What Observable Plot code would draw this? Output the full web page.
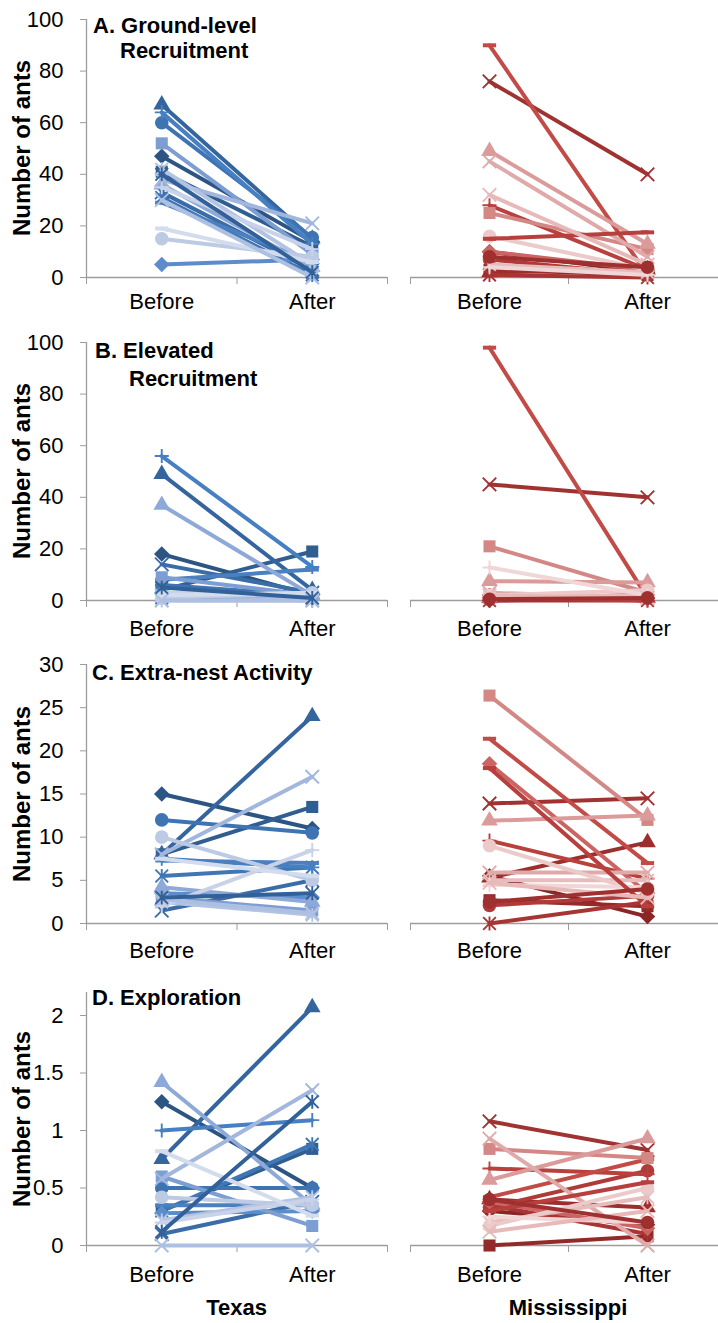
<!DOCTYPE html>
<html>
<head>
<meta charset="utf-8">
<script src="https://cdn.jsdelivr.net/npm/d3@7"></script>
<script src="https://cdn.jsdelivr.net/npm/@observablehq/plot@0.6"></script>
<style>
  body { margin: 0; background: #fff; }
  #chart { position: relative; width: 718px; height: 1323px; overflow: hidden; background: #fff;
           font-family: "Liberation Sans", Arial, sans-serif; }
  #chart svg { position: absolute; }
  .lbl { position: absolute; white-space: nowrap; line-height: 1; color: #000; font-weight: bold; }
</style>
</head>
<body>
<div id="chart"></div>
<script>
// ---- data ----
const categories = ["Before", "After"];
const stateNames = ["Texas", "Mississippi"];
const panelTitles = [["A. Ground-level", "Recruitment"], ["B. Elevated", "Recruitment"], ["C. Extra-nest Activity"], ["D. Exploration"]];
const yAxisTitle = "Number of ants";
const yDomains = [[0, 100], [0, 100], [0, 30], [0, 2.2]];
const yTicks = [[0, 20, 40, 60, 80, 100], [0, 20, 40, 60, 80, 100], [0, 5, 10, 15, 20, 25, 30], [0, 0.5, 1, 1.5, 2]];

// one entry per colony (series): marker and shade
const texasSymbols = ["diamond", "square", "triangle", "times", "star", "circle", "plus", "dash", "diamond", "square", "triangle", "times", "star", "circle", "plus", "dash", "times", "star"];
const texasColors = ["#2C5583", "#305E91", "#34659E", "#3A6CA8", "#3F76B6", "#3F74B2", "#4680C2", "#4B7FBF", "#5D8CCB", "#7D9ED3", "#8DA9D8", "#A2B7DE", "#B3C3E2", "#BCCAE4", "#C8D3E9", "#D3DCEC", "#AEC0E2", "#32619A"];
const mississippiSymbols = ["diamond", "square", "triangle", "times", "star", "circle", "plus", "dash", "diamond", "square", "triangle", "times", "star", "circle", "plus", "dash", "times", "circle"];
const mississippiColors = ["#8A2626", "#932A2A", "#9C2E2E", "#A13232", "#A83434", "#B03A38", "#B8403D", "#C24B47", "#CB6462", "#D48886", "#DA9B9A", "#E0AAAA", "#E6BCBC", "#ECCACA", "#F0D6D6", "#B7403E", "#E7B9B9", "#9E3030"];

// A. Ground-level recruitment
const texasGroundBefore = [47, 41, 67, 33, 31, 60, 64, 29, 5, 52, 36, 38, 42, 15, 35, 19, 30, 40];
const texasGroundAfter  = [14, 12, 15, 3, 1, 15.5, 13, 6, 7, 9, 4, 21, 5, 8, 11, 6, 0, 2];
const mississippiGroundBefore = [10, 3, 2, 76, 1, 7, 28, 90, 10, 25, 49, 45, 5, 16, 4, 15, 32, 8];
const mississippiGroundAfter  = [2, 1, 3, 40, 0, 1, 3, 1, 3, 11, 13, 8, 2, 3, 1, 17.5, 5, 4];
// B. Elevated recruitment
const texasElevatedBefore = [18, 4, 49, 14, 1, 6, 56, 8, 3, 9, 37, 2, 0, 1, 3, 2, 0, 5];
const texasElevatedAfter  = [2, 19, 4, 3, 0, 2, 13, 12, 1, 2, 2, 1, 0, 3, 2, 3, 0, 1];
const mississippiElevatedBefore = [0, 1, 1, 45, 0, 2, 2, 98, 1, 21, 7.5, 3, 1, 2, 12.8, 1, 2, 0.5];
const mississippiElevatedAfter  = [1, 2, 1, 40, 0, 1, 0, 1, 2, 3, 7, 1, 2, 4, 2, 0, 1, 1];
// C. Extra-nest activity
const texasActivityBefore = [15, 8, 8, 1.5, 5.5, 12, 7.5, 7.3, 3.5, 3, 4.2, 8, 2.5, 10, 2, 7.5, 2.8, 3];
const texasActivityAfter  = [11, 13.5, 24, 5, 6.5, 10.5, 6.5, 7, 3, 1.5, 2.5, 17, 1, 5, 8.5, 5.5, 1.2, 3.5];
const mississippiActivityBefore = [5.5, 2.7, 5.3, 13.9, 0, 2.1, 9.6, 21.4, 18.5, 26.4, 11.9, 5.9, 5, 9, 4.5, 18, 4.7, 2.5];
const mississippiActivityAfter  = [0.8, 2, 9.4, 14.5, 2.5, 3.2, 5.2, 7, 3.5, 12, 12.5, 5.9, 5, 3.5, 4.2, 2, 3, 4];
// D. Exploration
const texasExplorationBefore = [1.25, 0.3, 0.75, 0.1, 0.3, 0.5, 1.0, 0.35, 0.28, 0.6, 1.42, 0.58, 0.22, 0.42, 0.2, 0.82, 0, 0.12];
const texasExplorationAfter  = [0.5, 0.84, 2.07, 0.38, 0.88, 0.5, 1.09, 0.35, 0.3, 0.17, 0.35, 1.35, 0.42, 0.35, 0.4, 0.26, 0, 1.25];
const mississippiExplorationBefore = [0.3, 0, 0.4, 1.08, 0.35, 0.33, 0.67, 0.42, 0.38, 0.84, 0.57, 0.93, 0.2, 0.17, 0.25, 0.3, 0.12, 0.4];
const mississippiExplorationAfter  = [0.18, 0.08, 0.33, 0.83, 0.1, 0.65, 0.62, 0.75, 0.15, 0.76, 0.93, 0, 0.42, 0.5, 0.2, 0.55, 0.3, 0.2];

const seriesByState = [
  [[texasGroundBefore, texasGroundAfter], [texasElevatedBefore, texasElevatedAfter],
   [texasActivityBefore, texasActivityAfter], [texasExplorationBefore, texasExplorationAfter]],
  [[mississippiGroundBefore, mississippiGroundAfter], [mississippiElevatedBefore, mississippiElevatedAfter],
   [mississippiActivityBefore, mississippiActivityAfter], [mississippiExplorationBefore, mississippiExplorationAfter]]
];

// ---- layout (svg boxes may overlap; their backgrounds are transparent) ----
const rowLayout = [
  {top: 0,   height: 330, mt: 19, mb: 53, gap: 16},
  {top: 320, height: 330, mt: 22, mb: 50, gap: 20},
  {top: 640, height: 340, mt: 24, mb: 57, gap: 19},
  {top: 950, height: 373, mt: 42, mb: 78, gap: 21}
];
const titlePos = [[[93, 15], [120, 40]], [[95, 340], [129, 368]], [[92, 662]], [[92, 987]]];
const axisGrey = "#9C9C9C";
const lineWidth = 4;

// Excel-style markers that Plot lacks
const dashSymbol = {draw(ctx, size) {
  const w = Math.sqrt(size) * 1.15, h = w * 0.3;
  ctx.moveTo(-w / 2, -h / 2); ctx.lineTo(w / 2, -h / 2); ctx.lineTo(w / 2, h / 2); ctx.lineTo(-w / 2, h / 2); ctx.closePath();
}};
const starSymbol = {draw(ctx, size) {
  const r = Math.sqrt(size) * 0.55;
  ctx.moveTo(-r, -r); ctx.lineTo(r, r); ctx.moveTo(-r, r); ctx.lineTo(r, -r);
  ctx.moveTo(0, -r * 1.1); ctx.lineTo(0, r * 1.1);
}};
const symbolSpec = {
  diamond:  {symbol: "diamond2", r: 7,   filled: true},
  square:   {symbol: "square",   r: 6.8, filled: true},
  triangle: {symbol: "triangle", r: 6.2, filled: true},
  circle:   {symbol: "circle",   r: 6.8, filled: true},
  dash:     {symbol: dashSymbol, r: 6.5, filled: true},
  times:    {symbol: "times",    r: 6.2, filled: false},
  star:     {symbol: starSymbol, r: 6.5, filled: false},
  plus:     {symbol: "plus",     r: 4.6, filled: false}
};

const chart = document.getElementById("chart");

function addLabel(text, left, top, size, extra) {
  const d = document.createElement("div");
  d.className = "lbl";
  d.textContent = text;
  d.style.left = left + "px";
  d.style.top = top + "px";
  d.style.fontSize = size + "px";
  if (extra) Object.assign(d.style, extra);
  chart.appendChild(d);
}

function drawPanel(row, stateIdx) {
  const L = rowLayout[row];
  const isTexas = stateIdx === 0;
  const [before, after] = seriesByState[stateIdx][row];
  const syms = isTexas ? texasSymbols : mississippiSymbols;
  const cols = isTexas ? texasColors : mississippiColors;
  const width = isTexas ? 395 : 323;
  const xRange = isTexas ? [86, 387] : [15, 331];

  const marks = [
    Plot.ruleY([0], {stroke: axisGrey, strokeWidth: 1.3}),
    Plot.axisX({ticks: [-0.5, 0.5, 1.5], tickSize: 7, tickFormat: () => "", stroke: axisGrey, label: null}),
    Plot.axisX({ticks: [0, 1], tickSize: 0, tickPadding: L.gap, tickFormat: i => categories[i], fill: "#000", label: null})
  ];
  if (isTexas) {
    marks.push(
      Plot.ruleX([-0.5], {stroke: axisGrey, strokeWidth: 1.3}),
      Plot.axisY({ticks: yTicks[row], tickSize: 6, tickFormat: () => "", stroke: axisGrey, label: null}),
      Plot.axisY({ticks: yTicks[row], tickSize: 0, tickPadding: 23, tickFormat: d => String(d), fill: "#000", label: null})
    );
  }
  syms.forEach((s, i) => {
    const pts = [{t: 0, v: before[i]}, {t: 1, v: after[i]}];
    const spec = symbolSpec[s];
    marks.push(Plot.line(pts, {x: "t", y: "v", stroke: cols[i], strokeWidth: lineWidth}));
    marks.push(Plot.dot(pts, {
      x: "t", y: "v", symbol: spec.symbol, r: spec.r,
      fill: spec.filled ? cols[i] : "none",
      stroke: spec.filled ? "none" : cols[i],
      strokeWidth: 1.9
    }));
  });

  const svg = Plot.plot({
    width, height: L.height,
    marginLeft: isTexas ? 86 : 15, marginRight: isTexas ? 8 : 0,
    marginTop: L.mt, marginBottom: L.mb,
    x: {type: "linear", domain: [-0.5, 1.5], range: xRange, label: null},
    y: {domain: yDomains[row], label: null, axis: isTexas ? undefined : null},
    style: {fontFamily: '"Liberation Sans", Arial, sans-serif', fontSize: "22px", background: "transparent", color: "#000"},
    marks
  });
  svg.style.left = (isTexas ? 0 : 395) + "px";
  svg.style.top = L.top + "px";
  chart.appendChild(svg);

  if (isTexas) {
    const cy = L.top + L.mt + (L.height - L.mt - L.mb) / 2;
    addLabel(yAxisTitle, 22, cy, 24, {transform: "translate(-50%, -50%) rotate(-90deg)"});
    panelTitles[row].forEach((t, k) => addLabel(t, titlePos[row][k][0], titlePos[row][k][1], 22));
  }
}

for (let r = 0; r < 4; r++) { drawPanel(r, 0); drawPanel(r, 1); }

// state names under the bottom row
addLabel(stateNames[0], 236.5, 1297, 22, {transform: "translateX(-50%)"});
addLabel(stateNames[1], 568, 1297, 22, {transform: "translateX(-50%)"});
</script>
</body>
</html>
